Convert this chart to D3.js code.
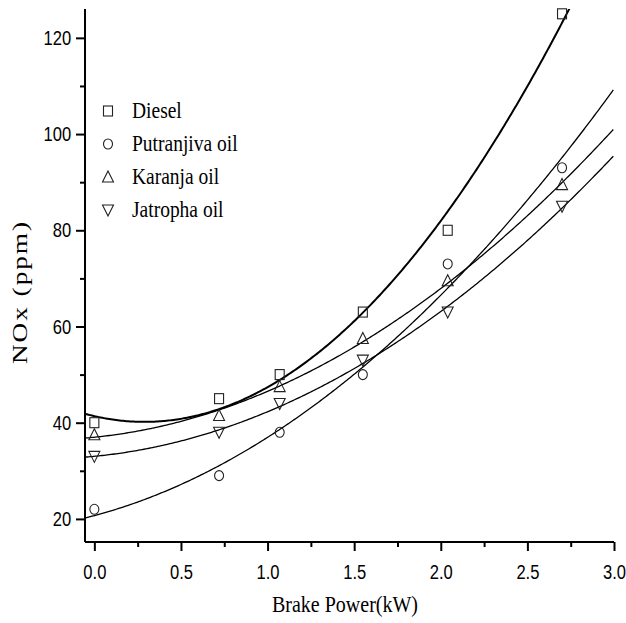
<!DOCTYPE html>
<html>
<head>
<meta charset="utf-8">
<script src="https://cdn.jsdelivr.net/npm/d3@7"></script>
<style>
  body { margin: 0; background: #fff; }
  .tick-label { font-family: "Liberation Sans Narrow", "Liberation Sans", Arial, sans-serif; font-size: 18px; fill: #000; }
  .serif { font-family: "Liberation Serif", "Times New Roman", serif; fill: #000; }
</style>
</head>
<body>
<div id="chart"></div>
<script>
var brakePower = [0, 0.72, 1.07, 1.55, 2.04, 2.7];
var dieselNOx = [40, 45, 50, 63, 80, 125];
var putranjivaNOx = [22, 29, 38, 50, 73, 93];
var karanjaNOx = [37.5, 41.5, 47.5, 57.5, 69.5, 89.5];
var jatrophaNOx = [33, 38, 44, 53, 63, 85];
var seriesNames = ["Diesel", "Putranjiva oil", "Karanja oil", "Jatropha oil"];
var seriesSymbols = ["square", "circle", "triangleUp", "triangleDown"];
var xTicks = [0, 0.5, 1.0, 1.5, 2.0, 2.5, 3.0];
var yTicks = [20, 40, 60, 80, 100, 120];

var width = 626, height = 623;
var plotLeft = 85, plotRight = 614, plotTop = 9, plotBottom = 542;

var svg = d3.select("#chart").append("svg")
    .attr("width", width).attr("height", height);

var x = d3.scaleLinear().domain([-0.054, 3.0]).range([plotLeft, plotRight]);
var y = d3.scaleLinear().domain([15.2, 126]).range([plotBottom, plotTop]);

svg.append("defs").append("clipPath").attr("id", "plotClip")
    .append("rect").attr("x", plotLeft).attr("y", plotTop)
    .attr("width", plotRight - plotLeft).attr("height", plotBottom - plotTop);

// least squares quadratic, like the fit lines in the original plot
function quadFit(xs, ys) {
    var s = [0, 0, 0, 0, 0], t = [0, 0, 0];
    xs.forEach(function (xv, i) {
        for (var k = 0; k < 5; k++) s[k] += Math.pow(xv, k);
        for (var j = 0; j < 3; j++) t[j] += ys[i] * Math.pow(xv, j);
    });
    var m = [[s[0], s[1], s[2], t[0]], [s[1], s[2], s[3], t[1]], [s[2], s[3], s[4], t[2]]];
    for (var c = 0; c < 3; c++) {
        for (var r = c + 1; r < 3; r++) {
            var f = m[r][c] / m[c][c];
            for (var q = c; q < 4; q++) m[r][q] -= f * m[c][q];
        }
    }
    var co = [0, 0, 0];
    for (var r2 = 2; r2 >= 0; r2--) {
        var v = m[r2][3];
        for (var q2 = r2 + 1; q2 < 3; q2++) v -= m[r2][q2] * co[q2];
        co[r2] = v / m[r2][r2];
    }
    return function (xv) { return co[0] + co[1] * xv + co[2] * xv * xv; };
}

var allSeries = [dieselNOx, putranjivaNOx, karanjaNOx, jatrophaNOx];
var lineWidths = [2, 1.3, 1.3, 1.3];

var line = d3.line().x(function (d) { return x(d[0]); }).y(function (d) { return y(d[1]); });
var xs = d3.range(-0.054, 3.0001, 0.01);

allSeries.forEach(function (vals, i) {
    var fit = quadFit(brakePower, vals);
    svg.append("path")
        .attr("clip-path", "url(#plotClip)")
        .attr("d", line(xs.map(function (xv) { return [xv, fit(xv)]; })))
        .attr("fill", "none").attr("stroke", "#000").attr("stroke-width", lineWidths[i]);
});

function drawSymbol(g, kind, cx, cy) {
    if (kind === "square") {
        g.append("rect").attr("x", cx - 4.5).attr("y", cy - 5).attr("width", 9).attr("height", 10);
    } else if (kind === "circle") {
        g.append("ellipse").attr("cx", cx).attr("cy", cy).attr("rx", 4.5).attr("ry", 5);
    } else if (kind === "triangleUp") {
        g.append("path").attr("d", "M" + cx + "," + (cy - 6) + "L" + (cx + 5.5) + "," + (cy + 5) + "L" + (cx - 5.5) + "," + (cy + 5) + "Z");
    } else {
        g.append("path").attr("d", "M" + cx + "," + (cy + 6) + "L" + (cx + 5.5) + "," + (cy - 5) + "L" + (cx - 5.5) + "," + (cy - 5) + "Z");
    }
}

var marks = svg.append("g").attr("fill", "none").attr("stroke", "#222").attr("stroke-width", 1.1);
allSeries.forEach(function (vals, i) {
    vals.forEach(function (v, j) {
        drawSymbol(marks, seriesSymbols[i], x(brakePower[j]), y(v));
    });
});

// axes
var xAxis = svg.append("g").attr("transform", "translate(0," + plotBottom + ")")
    .call(d3.axisBottom(x).tickValues(xTicks).tickSize(9).tickPadding(10).tickFormat(d3.format(".1f")));
svg.append("g").attr("transform", "translate(0," + plotBottom + ")")
    .call(d3.axisBottom(x).tickValues(d3.range(0.25, 3, 0.5)).tickSize(5).tickFormat(""))
    .select(".domain").remove();
var yAxis = svg.append("g").attr("transform", "translate(" + plotLeft + ",0)")
    .call(d3.axisLeft(y).tickValues(yTicks).tickSize(9).tickPadding(6));
svg.append("g").attr("transform", "translate(" + plotLeft + ",0)")
    .call(d3.axisLeft(y).tickValues([30, 50, 70, 90, 110]).tickSize(5).tickFormat(""))
    .select(".domain").remove();

xAxis.select(".domain").attr("d", "M" + plotLeft + ",0H" + plotRight);
yAxis.select(".domain").attr("d", "M0," + plotTop + "V" + plotBottom);
svg.selectAll(".domain").attr("stroke", "#000").attr("stroke-width", 2);
svg.selectAll(".tick line").attr("stroke", "#000").attr("stroke-width", 2);
// the original's labels look a bit condensed and tall
svg.selectAll(".tick text").attr("class", "tick-label").attr("font-size", null).attr("font-family", null)
    .attr("transform", "scale(0.92,1.15)");

// legend
var legendX = 108, legendY = 111, legendStep = 33;
var legend = svg.append("g");
seriesNames.forEach(function (name, i) {
    var g = legend.append("g").attr("fill", "none").attr("stroke", "#222").attr("stroke-width", 1.1);
    drawSymbol(g, seriesSymbols[i], legendX, legendY + i * legendStep);
    legend.append("text").attr("class", "serif")
        .attr("transform", "translate(132," + (legendY + i * legendStep + 7) + ") scale(1,1.15)")
        .attr("font-size", 19.5).text(name);
});

// axis titles
svg.append("text").attr("class", "serif")
    .attr("transform", "translate(345,612) scale(1,1.12)")
    .attr("text-anchor", "middle")
    .attr("font-size", 20).text("Brake Power(kW)");
svg.append("text").attr("class", "serif")
    .attr("transform", "translate(27,292) rotate(-90) scale(1.3,1)")
    .attr("text-anchor", "middle").attr("font-size", 21).attr("letter-spacing", 1.5)
    .text("NOx (ppm)");
</script>
</body>
</html>
